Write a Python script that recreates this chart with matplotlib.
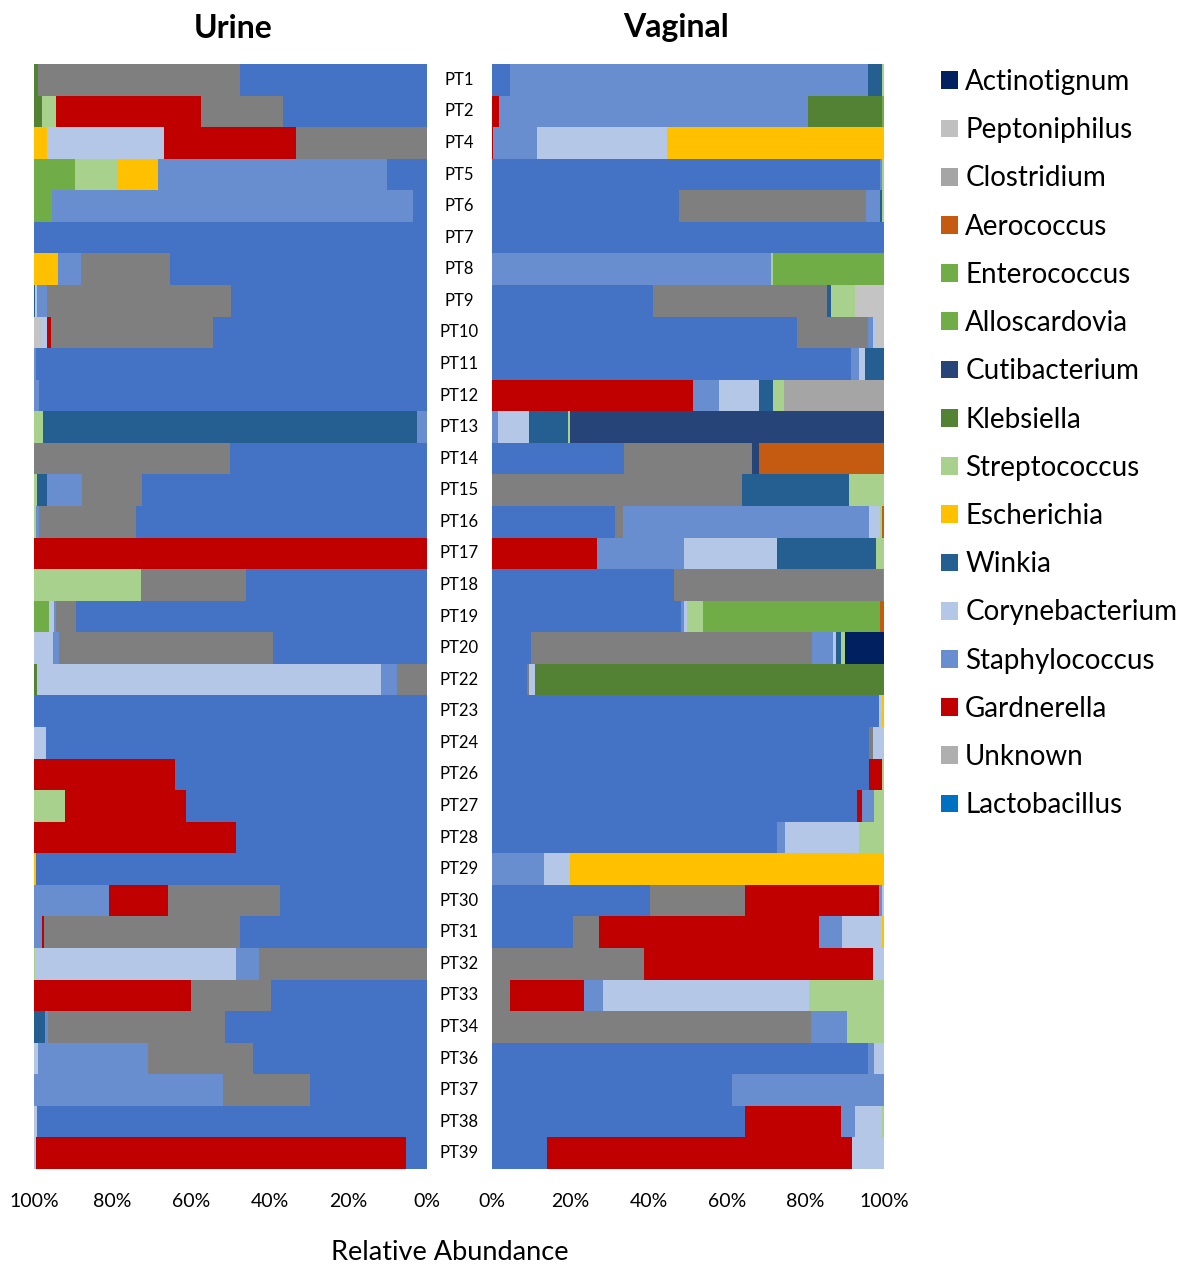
import matplotlib.pyplot as plt
from matplotlib.patches import Patch
import numpy as np

plt.rcParams['font.family'] = ['Lato', 'DejaVu Sans']

# patients, top to bottom
patients = ['PT1', 'PT2', 'PT4', 'PT5', 'PT6',
            'PT7', 'PT8', 'PT9', 'PT10', 'PT11',
            'PT12', 'PT13', 'PT14', 'PT15', 'PT16',
            'PT17', 'PT18', 'PT19', 'PT20', 'PT22',
            'PT23', 'PT24', 'PT26', 'PT27', 'PT28',
            'PT29', 'PT30', 'PT31', 'PT32', 'PT33',
            'PT34', 'PT36', 'PT37', 'PT38', 'PT39']

# stacking order (first = closest to 0%)
taxa = ['Lactobacillus', 'Unknown', 'Gardnerella', 'Staphylococcus', 'Corynebacterium',
        'Winkia', 'Escherichia', 'Streptococcus', 'Klebsiella', 'Cutibacterium',
        'Alloscardovia', 'Enterococcus', 'Aerococcus', 'Clostridium', 'Peptoniphilus',
        'Actinotignum']

bar_colors = ['#4472C4', '#7F7F7F', '#C00000', '#698ED0', '#B4C7E7',
              '#255E91', '#FFC000', '#A9D18E', '#548235', '#264478',
              '#70AD47', '#70AD47', '#C55A11', '#A5A5A5', '#C4C4C4',
              '#002060']
legend_colors = ['#0070C0', '#AFAFAF', '#C00000', '#698ED0', '#B4C7E7',
                 '#255E91', '#FFC000', '#A9D18E', '#548235', '#264478',
                 '#70AD47', '#70AD47', '#C55A11', '#A5A5A5', '#C0C0C0',
                 '#002060']

Z = [0, 0, 0, 0, 0]

# ---------------- Urine (% relative abundance) ----------------
u_lacto = [47.6, 36.7, 0, 10.3, 3.6,  100, 65.3, 49.8, 54.4, 99.5,  98.7, 0, 50.2, 72.6, 74.1,
           0, 46.1, 89.2, 39.2, 0,  100, 97.0, 64.2, 61.4, 48.7,  99.6, 37.5, 47.6, 0, 39.7,
           51.3, 44.4, 29.8, 99.3, 5.3]
u_unknown = [51.4, 20.8, 33.3, 0, 0,  0, 22.7, 46.8, 41.4, 0,  0, 0, 49.8, 15.1, 24.7,
             0, 26.8, 5.2, 54.5, 7.6,  0, 0, 0, 0, 0,  0, 28.3, 49.9, 42.8, 20.3,
             45.1, 26.6, 22.0, 0, 0]
u_gard = [0, 36.8, 33.6, 0, 0,  0, 0, 0, 1.0, 0,  0, 0, 0, 0, 0,
          100, 0, 0, 0, 0,  0, 0, 35.8, 30.7, 51.3,  0, 15.0, 0.4, 0, 40.0,
          0, 0, 0, 0, 94.1]
u_staph = [0, 0, 0, 58.1, 91.9,  0, 5.9, 2.7, 0, 0.5,  1.3, 2.5, 0, 9.1, 0.6,
           0, 0, 0.5, 1.5, 4.2,  0, 0, 0, 0, 0,  0, 19.2, 2.1, 5.9, 0,
           0.9, 28.1, 48.2, 0, 0]
u_cory = [0, 0, 29.7, 0, 0,  0, 0, 0.4, 1.2, 0,  0, 0, 0, 0, 0,
          0, 0, 1.3, 4.8, 87.4,  0, 3.0, 0, 0, 0,  0, 0, 0, 51.1, 0,
          0, 0.9, 0, 0.7, 0.6]
u_winkia = Z + [0, 0, 0.3, 0, 0] + [0, 95.2, 0, 2.4, 0] + Z + Z + Z + [2.7, 0, 0, 0, 0]
u_esch = [0, 0, 3.4, 10.5, 0] + [0, 6.1, 0, 0, 0] + Z + Z + Z + [0.4, 0, 0, 0, 0] + Z
u_strep = [0, 3.6, 0, 10.6, 0] + Z + [0, 2.3, 0, 0.8, 0.6] + [0, 27.1, 0, 0, 0] + \
          [0, 0, 0, 7.9, 0] + [0, 0, 0, 0.2, 0] + Z
u_kleb = [1.0, 2.1, 0, 0, 0] + Z + Z + [0, 0, 0, 0, 0.8] + Z + Z + Z
u_cuti = Z * 7
u_allo = Z * 7
u_entero = [0, 0, 0, 10.5, 4.5] + Z + Z + [0, 0, 3.8, 0, 0] + Z + Z + Z
u_aero = Z * 7
u_clost = Z * 7
u_pept = Z + [0, 0, 0, 2.0, 0] + Z + Z + Z + Z + Z
u_actino = Z * 7

# ---------------- Vaginal (% relative abundance) ----------------
v_lacto = [4.7, 0, 0, 99.0, 47.7,  100, 0, 41.0, 77.7, 91.5,  0, 0, 33.6, 0, 31.4,
           0, 46.5, 48.2, 10.0, 8.9,  98.7, 96.3, 96.3, 93.2, 72.8,  0, 40.4, 20.6, 0, 0,
           0, 95.8, 61.3, 64.6, 14.0]
v_unknown = [0, 0, 0, 0, 47.7,  0, 0, 44.5, 18.1, 0,  0, 0, 32.7, 63.9, 1.9,
             0, 53.2, 0, 71.7, 0.6,  0, 1.0, 0, 0, 0,  0, 24.2, 6.6, 38.7, 4.5,
             81.4, 0, 0, 0, 0]
v_gard = [0, 1.9, 0.3, 0, 0] + Z + [51.2, 0, 0, 0, 0] + [26.8, 0, 0, 0, 0] + \
         [0, 0, 3.1, 1.2, 0] + [0, 34.1, 56.3, 58.6, 18.9] + [0, 0, 0, 24.4, 77.8]
v_staph = [91.2, 78.6, 11.1, 0.6, 3.7,  0, 71.2, 0, 1.3, 2.0,  6.6, 1.5, 0, 0, 63.0,
           22.3, 0.3, 0.9, 5.4, 0,  0, 0, 0, 3.1, 2.0,  13.3, 0.7, 5.9, 0, 4.8,
           9.1, 1.7, 38.7, 3.5, 0]
v_cory = [0, 0, 33.3, 0, 0,  0, 0, 0, 0.6, 1.7,  10.3, 7.9, 0, 0, 2.7,
          23.7, 0, 0.6, 0.7, 1.5,  0.8, 2.7, 0, 0, 18.9,  6.6, 0.6, 10.0, 2.7, 52.7,
          0, 2.5, 0, 7.0, 8.2]
v_winkia = [3.6, 0, 0, 0, 0.4] + [0, 0, 1.1, 0, 4.8] + [3.5, 9.9, 0, 27.2, 0] + \
           [25.2, 0, 0, 1.2, 0] + Z + Z + Z
v_esch = [0, 0, 55.3, 0, 0] + Z + Z + Z + [0.5, 0, 0, 0, 0] + [80.1, 0, 0.6, 0, 0] + Z
v_strep = [0.5, 0, 0, 0.4, 0.5] + [0, 0.6, 5.9, 0, 0] + [3.0, 0.6, 0, 8.9, 0.6] + \
          [2.0, 0, 4.2, 1.1, 0] + [0, 0, 0.6, 2.5, 6.3] + [0, 0, 0, 0, 19.1] + [9.5, 0, 0, 0.5, 0]
v_kleb = [0, 18.9, 0, 0, 0] + Z + Z + [0, 0, 0, 0, 89.0] + Z + Z + Z
v_cuti = Z + Z + [0, 80.1, 1.8, 0, 0] + Z + Z + Z + Z
v_allo = Z * 7
v_entero = [0, 0.6, 0, 0, 0] + [0, 28.2, 0, 0, 0] + Z + [0, 0, 45.1, 0, 0] + Z + Z + Z
v_aero = Z + Z + [0, 0, 31.9, 0, 0.4] + [0, 0, 1.0, 0, 0] + Z + Z + Z
v_clost = Z + Z + [25.4, 0, 0, 0, 0] + Z + Z + Z + Z
v_pept = Z + [0, 0, 7.5, 2.3, 0] + Z + Z + Z + Z + Z
v_actino = Z + Z + Z + [0, 0, 0, 9.9, 0] + Z + Z + Z

urine = [u_lacto, u_unknown, u_gard, u_staph, u_cory, u_winkia, u_esch, u_strep,
         u_kleb, u_cuti, u_allo, u_entero, u_aero, u_clost, u_pept, u_actino]
vaginal = [v_lacto, v_unknown, v_gard, v_staph, v_cory, v_winkia, v_esch, v_strep,
           v_kleb, v_cuti, v_allo, v_entero, v_aero, v_clost, v_pept, v_actino]

fig = plt.figure(figsize=(11.81, 12.65), dpi=100)
fig.patch.set_facecolor('white')
ax_u = fig.add_axes([34 / 1181, 1 - 1169 / 1265, 393 / 1181, 1105 / 1265])
ax_v = fig.add_axes([492 / 1181, 1 - 1169 / 1265, 392 / 1181, 1105 / 1265])

y = np.arange(len(patients))
for ax, site in [(ax_u, urine), (ax_v, vaginal)]:
    left = np.zeros(len(patients))
    for vals, col in zip(site, bar_colors):
        vals = np.array(vals, dtype=float)
        ax.barh(y, vals, left=left, height=1.0, color=col, linewidth=0)
        left += vals
    ax.set_ylim(len(patients) - 0.5, -0.5)
    ax.set_yticks([])
    for s in ax.spines.values():
        s.set_visible(False)
    ax.set_xticks([0, 20, 40, 60, 80, 100])
    ax.set_xticklabels(['0%', '20%', '40%', '60%', '80%', '100%'], fontsize=14)
    ax.tick_params(axis='x', length=0, pad=17)

ax_u.set_xlim(100, 0)
ax_v.set_xlim(0, 100)

# patient labels in the gap between panels
for i, p in enumerate(patients):
    ax_v.text(-0.084, i, p, transform=ax_v.get_yaxis_transform(),
              ha='center', va='center', fontsize=12)

fig.text(233 / 1181, 1 - 28 / 1265, 'Urine', ha='center', va='center',
         fontsize=23, fontweight='bold')
fig.text(676 / 1181, 1 - 28 / 1265, 'Vaginal', ha='center', va='center',
         fontsize=23, fontweight='bold')
fig.text(450 / 1181, 1 - 1253 / 1265, 'Relative Abundance', ha='center', va='center',
         fontsize=19.5)

handles = [Patch(facecolor=c, edgecolor='none', label=t)
           for t, c in zip(taxa, legend_colors)][::-1]
fig.legend(handles=handles, loc='upper left', bbox_to_anchor=(941 / 1181, 1 - 69 / 1265),
           frameon=False, fontsize=20, handlelength=0.61, handleheight=0.61,
           handletextpad=0.26, labelspacing=0.8, borderpad=0, borderaxespad=0)

fig.savefig('out.png', dpi=100)
